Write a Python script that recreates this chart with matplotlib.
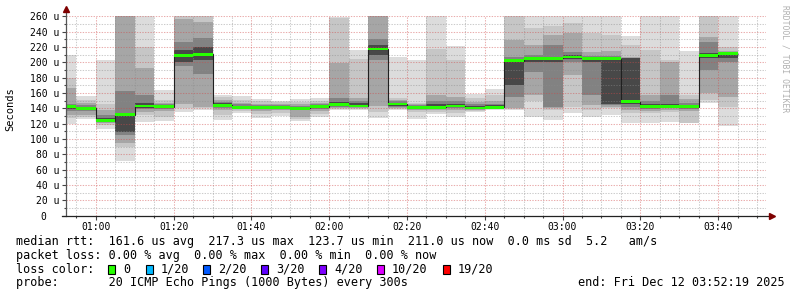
import numpy as np
import matplotlib
matplotlib.use("Agg")
import matplotlib.pyplot as plt
from matplotlib.patches import Rectangle

plt.rcParams['font.family'] = ['DejaVu Sans Mono']

# 5 minute slots (start of each step), smokeping median rtt in microseconds
slots = ['00:50', '00:55', '01:00', '01:05', '01:10', '01:15', '01:20', '01:25',
         '01:30', '01:35', '01:40', '01:45', '01:50', '01:55', '02:00', '02:05',
         '02:10', '02:15', '02:20', '02:25', '02:30', '02:35', '02:40', '02:45',
         '02:50', '02:55', '03:00', '03:05', '03:10', '03:15', '03:20', '03:25',
         '03:30', '03:35', '03:40']
median = [142, 140, 123.7, 131.5, 143, 142, 209, 210.5, 144, 141, 141, 141, 140, 142,
          144.5, 143, 217.3, 145.5, 141, 141.5, 143, 140.5, 141.5, 202, 204.5, 205,
          207, 204.5, 204.5, 148.7, 142, 142.5, 142, 208.7, 211.0]

# smoke bands, outermost (1) to innermost (5): low / high ping edges
lo1 = [120, 126, 112.7, 71, 122.6, 124, 135.6, 138, 124.8, 133.5, 127, 130, 123, 128.3,
       137.8, 138, 127, 137.8, 126, 132.6, 128.3, 135.6, 137.8, 138, 129, 124.8, 133.5,
       129, 131, 120.5, 121, 122.6, 120.5, 146.6, 117.5]
lo2 = [127, 129, 118, 90, 131, 129, 140, 140, 131, 136.5, 132, 134, 126, 133, 139, 139,
       135, 139, 135, 135, 134, 137, 139, 139, 150, 138, 142, 138, 140, 134, 134, 135,
       121, 151, 142]
lo3 = [131, 131, 120.5, 94.4, 135.6, 136, 145, 142, 138, 138.5, 136, 137.5, 128.5, 137,
       140, 140, 143, 140, 138, 138, 138, 138, 139.5, 140, 157.4, 140, 183.5, 144, 142,
       138, 137, 138, 136, 159.6, 155]
lo4 = [137, 137, 122, 105, 139, 139, 195, 185, 140.5, 139.5, 138.5, 139, 137.5, 139.5,
       141.5, 141.5, 203, 142, 139.5, 139.5, 140, 139, 140, 155, 188, 142, 201, 157.4,
       144.4, 142, 139, 140, 139, 190, 201]
lo5 = [139, 138.5, 123, 109.5, 141, 141, 201, 203, 142, 140, 139.5, 140, 139, 140.5,
       142.5, 142, 209.5, 143.5, 140, 140.5, 141.5, 139.5, 140.5, 170, 200, 200, 204,
       200, 146, 145, 140, 141, 140.5, 205, 206]
hi1 = [210, 156, 203, 270, 270, 164, 270, 270, 158, 156, 152, 150, 152, 153, 259, 216,
       270, 207, 203, 270, 221, 158.7, 164.8, 270, 270, 270, 270, 270, 270, 234.3, 270,
       270, 215, 270, 270]
hi2 = [180, 151, 146, 270, 220, 151, 260, 262, 155, 151, 149, 148, 148.5, 150, 258, 204,
       270, 153.5, 146.6, 218, 203, 154, 157, 262, 245, 247, 251, 238, 236, 222.6, 216,
       203, 157, 270, 220]
hi3 = [166, 147, 138, 270, 192, 147, 257, 253, 151, 147, 146, 146, 146, 147, 199, 154,
       270, 151, 145, 157.4, 154.4, 148, 149, 229, 222.6, 235.6, 238, 214, 215, 207,
       157.4, 200, 152, 233.4, 215]
hi4 = [146, 144, 131, 162, 157, 145, 227, 232, 148.5, 145, 144, 144, 143.5, 145, 153,
       149, 231, 149, 144, 149, 149, 145, 146, 207, 209.5, 222.6, 214, 208, 208, 206,
       149, 157, 147, 227, 214]
hi5 = [143, 142, 127, 132, 147, 143.5, 216, 220, 146.5, 143, 143, 143, 142, 143.5, 148,
       146.5, 222.6, 147.5, 143, 145, 146, 142.5, 144, 203, 207, 207.5, 210, 206, 206,
       205, 145, 146, 144.5, 212, 213]

shades = ['#dcdcdc', '#c6c6c6', '#a6a6a6', '#828282', '#484848']

loss_labels = ['0', '1/20', '2/20', '3/20', '4/20', '10/20', '19/20']
loss_colors = ['#26ff00', '#00b8ff', '#0059ff', '#5e00ff', '#7e00ff', '#dd00ff', '#ff0000']


def minutes(s):
    parts = [int(p) for p in s.split(":")]
    return parts[0] * 60 + parts[1] + (parts[2] / 60 if len(parts) > 2 else 0)


x = np.array([minutes(s) for s in slots])
t_start = minutes("00:52:19")
t_end = minutes("03:52:19")

W, H = 797, 297
fig = plt.figure(figsize=(W / 100, H / 100), dpi=100)
fig.patch.set_facecolor('white')
ax = fig.add_axes([66 / W, 1 - 215.7 / H, 700 / W, 199.4 / H])

# smoke
for lo, hi, c in zip([lo1, lo2, lo3, lo4, lo5], [hi1, hi2, hi3, hi4, hi5], shades):
    lo = np.array(lo)
    hi = np.array(hi)
    ax.bar(x, hi - lo, bottom=lo, width=5, align='edge', color=c,
           linewidth=0, antialiased=False, zorder=1)

# median line + loss coloured band
ax.stairs(median, np.append(x, x[-1] + 5), baseline=None, color='#202020', lw=0.8, zorder=3)
ax.bar(x, 3.6, bottom=np.array(median) - 1.8, width=5, align='edge',
       color=loss_colors[0], linewidth=0, antialiased=False, zorder=4)

ax.set_xlim(t_start, t_end)
ax.set_ylim(0, 260)
ax.set_xticks(np.arange(60, t_end, 20))
ax.set_xticks(np.arange(55, t_end, 5), minor=True)
ax.set_yticks(np.arange(0, 261, 20))
ax.set_yticks(np.arange(10, 260, 20), minor=True)
ax.set_xticklabels(["%02d:%02d" % (v // 60, v % 60) for v in np.arange(60, t_end, 20).astype(int)])
ax.set_yticklabels([("%d u" % v) if v else "0  " for v in np.arange(0, 261, 20)])

ax.set_axisbelow(False)
ax.grid(which='major', color='#d04848', alpha=0.45, lw=0.75, linestyle=(0, (1.3, 1.3)))
ax.grid(which='minor', color='#8c8c8c', alpha=0.45, lw=0.75, linestyle=(0, (1.3, 1.3)))

for s in ax.spines.values():
    s.set_visible(False)
ax.tick_params(which='both', color='#444444', width=0.8, labelsize=7, pad=2)
ax.tick_params(which='major', length=3)
ax.tick_params(which='minor', length=1.5)
ax.tick_params(axis='x', pad=1.5)

# axes with arrows
ax.plot([0, 0], [0, 1.03], transform=ax.transAxes, color='#555555', lw=0.9, clip_on=False, zorder=5)
ax.plot([-0.006, 1.008], [0, 0], transform=ax.transAxes, color='#222222', lw=0.9, clip_on=False, zorder=5)
ax.plot([0], [1.035], marker='^', ms=4, color='#7f0000', transform=ax.transAxes, clip_on=False, zorder=6)
ax.plot([1.008], [0], marker='>', ms=4, color='#7f0000', transform=ax.transAxes, clip_on=False, zorder=6)

fig.text(10.7 / W, 1 - 109 / H, 'Seconds', rotation=90, ha='center', va='center', fontsize=7.5)
fig.text(785 / W, 1 - 5 / H, 'RRDTOOL / TOBI OETIKER', rotation=270, ha='center', va='top',
         fontsize=5.8, color='#b0b0b0')

# legend block
fs = 8.5
fig.text(16 / W, 1 - 241.7 / H,
         'median rtt:  161.6 us avg  217.3 us max  123.7 us min  211.0 us now  0.0 ms sd  5.2   am/s',
         ha='left', va='center', fontsize=fs)
fig.text(16 / W, 1 - 255 / H,
         'packet loss: 0.00 % avg  0.00 % max  0.00 % min  0.00 % now',
         ha='left', va='center', fontsize=fs)
fig.text(16 / W, 1 - 269.3 / H, 'loss color:', ha='left', va='center', fontsize=fs)
sq_x = [108.3, 145.7, 203.3, 261, 319.3, 376.7, 442.7]
for px, lab, col in zip(sq_x, loss_labels, loss_colors):
    fig.patches.append(Rectangle((px / W, 1 - 274 / H), 7 / W, 9 / H, transform=fig.transFigure,
                                 facecolor=col, edgecolor='black', lw=0.8))
    fig.text((px + 15) / W, 1 - 269.3 / H, lab, ha='left', va='center', fontsize=fs)
fig.text(16 / W, 1 - 282.7 / H, 'probe:       20 ICMP Echo Pings (1000 Bytes) every 300s',
         ha='left', va='center', fontsize=fs)
fig.text(578.3 / W, 1 - 282.7 / H, 'end: Fri Dec 12 03:52:19 2025',
         ha='left', va='center', fontsize=fs)

fig.savefig('out.png', dpi=100, facecolor='white')
